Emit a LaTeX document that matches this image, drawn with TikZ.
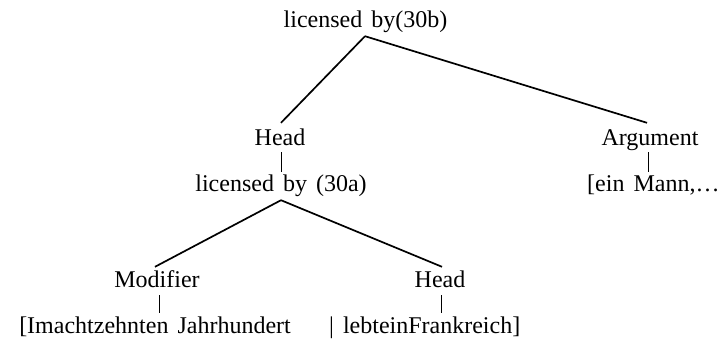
\documentclass[tikz,border=0pt]{standalone}
\usepackage{fontspec}
\setmainfont[WordSpace=1.5]{Liberation Serif}
\begin{document}
\begin{tikzpicture}[x=1pt,y=-1pt,
  lbl/.style={font=\fontsize{24}{28}\selectfont, inner sep=0pt, text height=17pt, text depth=5pt, anchor=base},
  branch/.style={draw=black, line width=1.7pt},
  tick/.style={draw=black, line width=0.8pt}]
\useasboundingbox (0,0) rectangle (724,338);
\node[lbl] (top) at (365.5,27) {licensed by(30b)};
\node[lbl] (head1) at (280,145) {Head};
\node[lbl] (arg) at (650,145) {Argument};
\node[lbl] (mid) at (281,191) {licensed by (30a)};
\node[lbl, anchor=base west] (ein) at (587,191) {[ein Mann,…};
\node[lbl] (mod) at (157,287) {Modifier};
\node[lbl] (head2) at (440,287) {Head};
\node[lbl, anchor=base east] (bot1) at (291,333) {[Imachtzehnten Jahrhundert};
\node[lbl, anchor=base west] (bot2) at (329,333) {| lebteinFrankreich]};
% branches
\draw[branch] ([xshift=-0.5pt,yshift=-4pt]top.south) -- ([xshift=1pt,yshift=5pt]head1.north);
\draw[branch] ([xshift=-0.5pt,yshift=-4pt]top.south) -- ([xshift=-3pt,yshift=5pt]arg.north);
\draw[branch] ([yshift=-4pt]mid.south) -- ([xshift=-2pt,yshift=3pt]mod.north);
\draw[branch] ([yshift=-4pt]mid.south) -- ([xshift=2pt,yshift=3pt]head2.north);
% ticks
\draw[tick] ([xshift=1pt,yshift=-2pt]head1.south) -- ([xshift=1pt,yshift=2pt]head1.south |- mid.north);
\draw[tick] ([xshift=-2pt,yshift=-2pt]arg.south) -- ([xshift=-2pt,yshift=2pt]arg.south |- ein.north);
\draw[tick] ([xshift=2pt,yshift=-3pt]mod.south) -- ([xshift=2pt,yshift=3pt]mod.south |- bot1.north);
\draw[tick] ([xshift=1pt,yshift=-3pt]head2.south) -- ([xshift=1pt,yshift=3pt]head2.south |- bot2.north);
\end{tikzpicture}
\end{document}
